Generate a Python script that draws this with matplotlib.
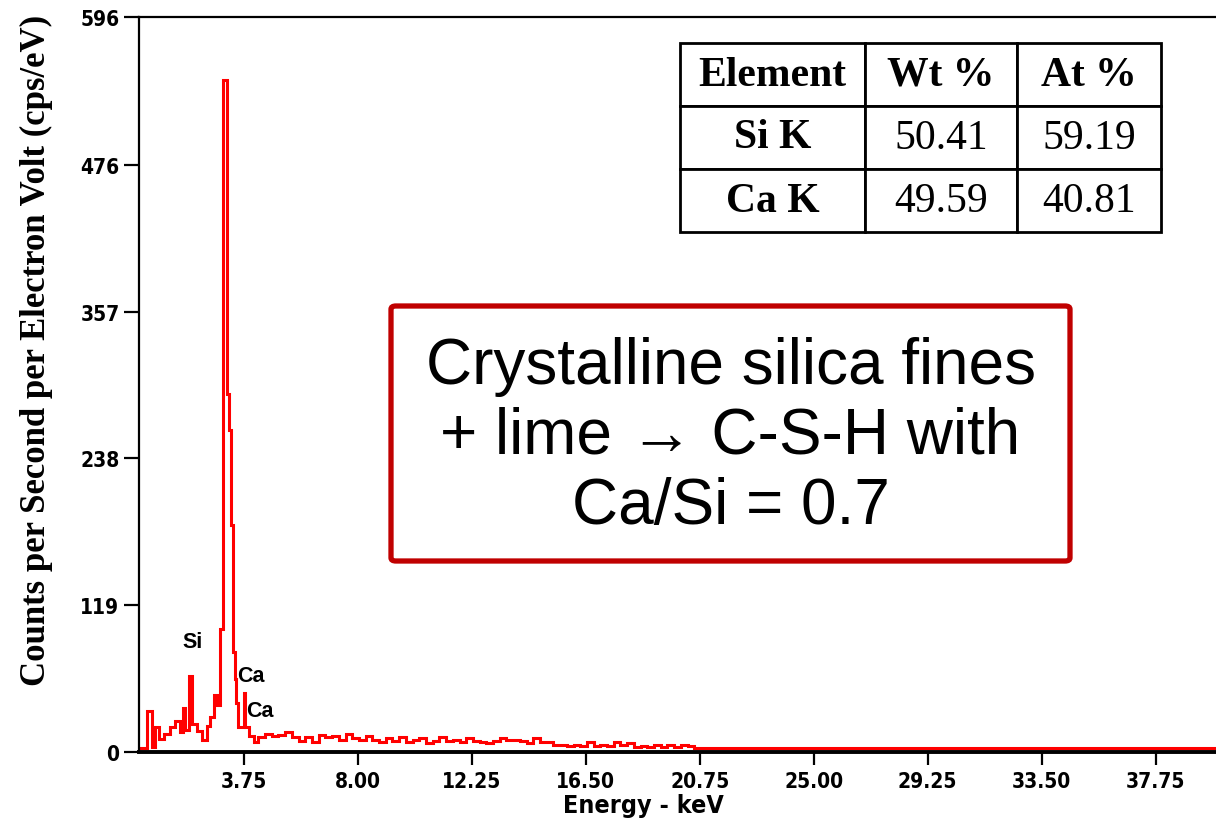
import matplotlib
matplotlib.use("Agg")
import matplotlib.pyplot as plt
from matplotlib.patches import FancyBboxPatch
from matplotlib.font_manager import FontProperties, findfont

# ---------------- data ----------------
# spectrum step edges (keV) and counts (cps/eV)
peak_edges = [-0.15, 0.15, 0.33, 0.46, 0.61, 0.77, 1.02, 1.20, 1.39, 1.48, 1.58,
              1.70, 1.82, 2.01, 2.20, 2.39, 2.51, 2.64, 2.76, 2.88, 2.97, 3.12,
              3.20, 3.29, 3.35, 3.42, 3.48, 3.53, 3.75, 3.81, 3.94, 4.12, 4.30]
peak_counts = [3, 33, 4, 20, 10.5, 14.5, 20, 25, 16, 36,
               18, 62, 23, 17, 10, 21, 28, 46, 38, 100,
               545, 290, 261, 184, 81, 59, 40, 20, 48, 20,
               13, 8]
tail_start = 4.30
tail_step = 0.25
tail_counts = [12, 15, 13, 14, 16, 12, 9, 12, 8, 14, 12, 13, 10, 15, 11, 10,
               13, 10, 8, 11, 9, 12, 8, 10, 11, 7, 9, 12, 9, 10, 8, 11,
               9, 8, 7, 9, 11, 10, 10, 9, 7, 11, 8, 8, 6, 6, 5, 6,
               5, 8, 5, 6, 5, 8, 6, 7, 4, 5, 4, 6, 4, 6, 4, 6, 5]
background_level = 3
energy_max = 40.0

y_ticks = [0, 119, 238, 357, 476, 596]
x_ticks = [3.75, 8.00, 12.25, 16.50, 20.75, 25.00, 29.25, 33.50, 37.75]

peak_labels = ["Si", "Ca", "Ca"]
peak_label_x = [1.83, 4.01, 4.35]
peak_label_y = [90, 62, 34]

table_cols = ["Element", "Wt %", "At %"]
table_elements = ["Si K", "Ca K"]
wt_pct = ["50.41", "49.59"]
at_pct = ["59.19", "40.81"]

box_text = "Crystalline silica fines\n+ lime \u2192 C-S-H with\nCa/Si = 0.7"

# ---------------- fonts ----------------
cond_path = findfont(FontProperties(family="DejaVu Sans", weight="bold",
                                    stretch="condensed"))
if "Condensed" in cond_path:
    tick_fp = FontProperties(fname=cond_path, size=15)
    xlab_fp = FontProperties(fname=cond_path, size=18)
else:
    tick_fp = FontProperties(family=["Liberation Sans", "DejaVu Sans"],
                             weight="bold", size=15)
    xlab_fp = FontProperties(family=["Liberation Sans", "DejaVu Sans"],
                             weight="bold", size=18)

# ---------------- build step arrays ----------------
edges = list(peak_edges)
counts = list(peak_counts)
e = tail_start
for c in tail_counts:
    e = round(e + tail_step, 4)
    edges.append(e)
    counts.append(c)
edges.append(energy_max)
counts.append(background_level)

# ---------------- figure ----------------
W, H = 1216, 820
fig = plt.figure(figsize=(W / 100, H / 100), dpi=100)
ax = fig.add_axes([139 / W, 67 / H, (W - 139) / W, (753 - 18) / H])

ax.stairs(counts, edges, color="#ff0000", linewidth=2.2, baseline=None)

ax.set_xlim(-0.15, energy_max)
ax.set_ylim(0, 596)
ax.set_yticks(y_ticks)
ax.set_yticklabels([str(v) for v in y_ticks])
ax.set_xticks(x_ticks)
ax.set_xticklabels([f"{v:.2f}" for v in x_ticks])

for lab in ax.get_xticklabels() + ax.get_yticklabels():
    lab.set_fontproperties(tick_fp)

ax.tick_params(axis="y", length=11, width=1.6, pad=3, direction="out")
ax.tick_params(axis="x", length=9, width=1.6, pad=5, direction="out")

ax.spines["right"].set_visible(False)
ax.spines["left"].set_linewidth(1.6)
ax.spines["top"].set_linewidth(1.6)
ax.spines["bottom"].set_linewidth(2.8)
ax.spines["bottom"].set_zorder(1)

fig.text(643 / W, 1 - 806 / H, "Energy - keV", ha="center", va="center",
         fontproperties=xlab_fp)
fig.text(36 / W, 1 - 350 / H, "Counts per Second per Electron Volt (cps/eV)",
         rotation=90, ha="center", va="center",
         family=["Liberation Serif", "DejaVu Serif"], weight="bold", fontsize=25)

for t, xv, yv in zip(peak_labels, peak_label_x, peak_label_y):
    ax.text(xv, yv, t, ha="center", va="center", fontsize=15.5, fontweight="bold",
            family=["Liberation Sans", "DejaVu Sans"])

# ---------------- table ----------------
tax = fig.add_axes([680 / W, 1 - 233 / H, (1161 - 680) / W, (233 - 44) / H])
tax.axis("off")
cell_text = [list(r) for r in zip(table_elements, wt_pct, at_pct)]
tbl = tax.table(cellText=cell_text, colLabels=table_cols, bbox=[0, 0, 1, 1],
                colWidths=[185, 152, 144], cellLoc="center")
tbl.auto_set_font_size(False)
for (r, c), cell in tbl.get_celld().items():
    cell.set_linewidth(2.0)
    cell.set_edgecolor("black")
    txt = cell.get_text()
    txt.set_fontfamily(["Liberation Serif", "DejaVu Serif"])
    txt.set_fontsize(30)
    if r == 0 or c == 0:
        txt.set_fontweight("bold")

# ---------------- annotation box ----------------
bx0, bx1, by0, by1 = 391, 1070, 307, 562
box = FancyBboxPatch((bx0 / W, 1 - by1 / H), (bx1 - bx0) / W, (by1 - by0) / H,
                     boxstyle="round,pad=0,rounding_size=0.004",
                     transform=fig.transFigure, facecolor="white",
                     edgecolor="#c00000", linewidth=3.8, zorder=5)
fig.add_artist(box)
fig.text((bx0 + bx1) / 2 / W, 1 - 437 / H, box_text, ha="center", va="center",
         family=["Liberation Sans", "DejaVu Sans"], fontsize=46,
         linespacing=1.22, zorder=6)

fig.savefig("out.png", dpi=100)
